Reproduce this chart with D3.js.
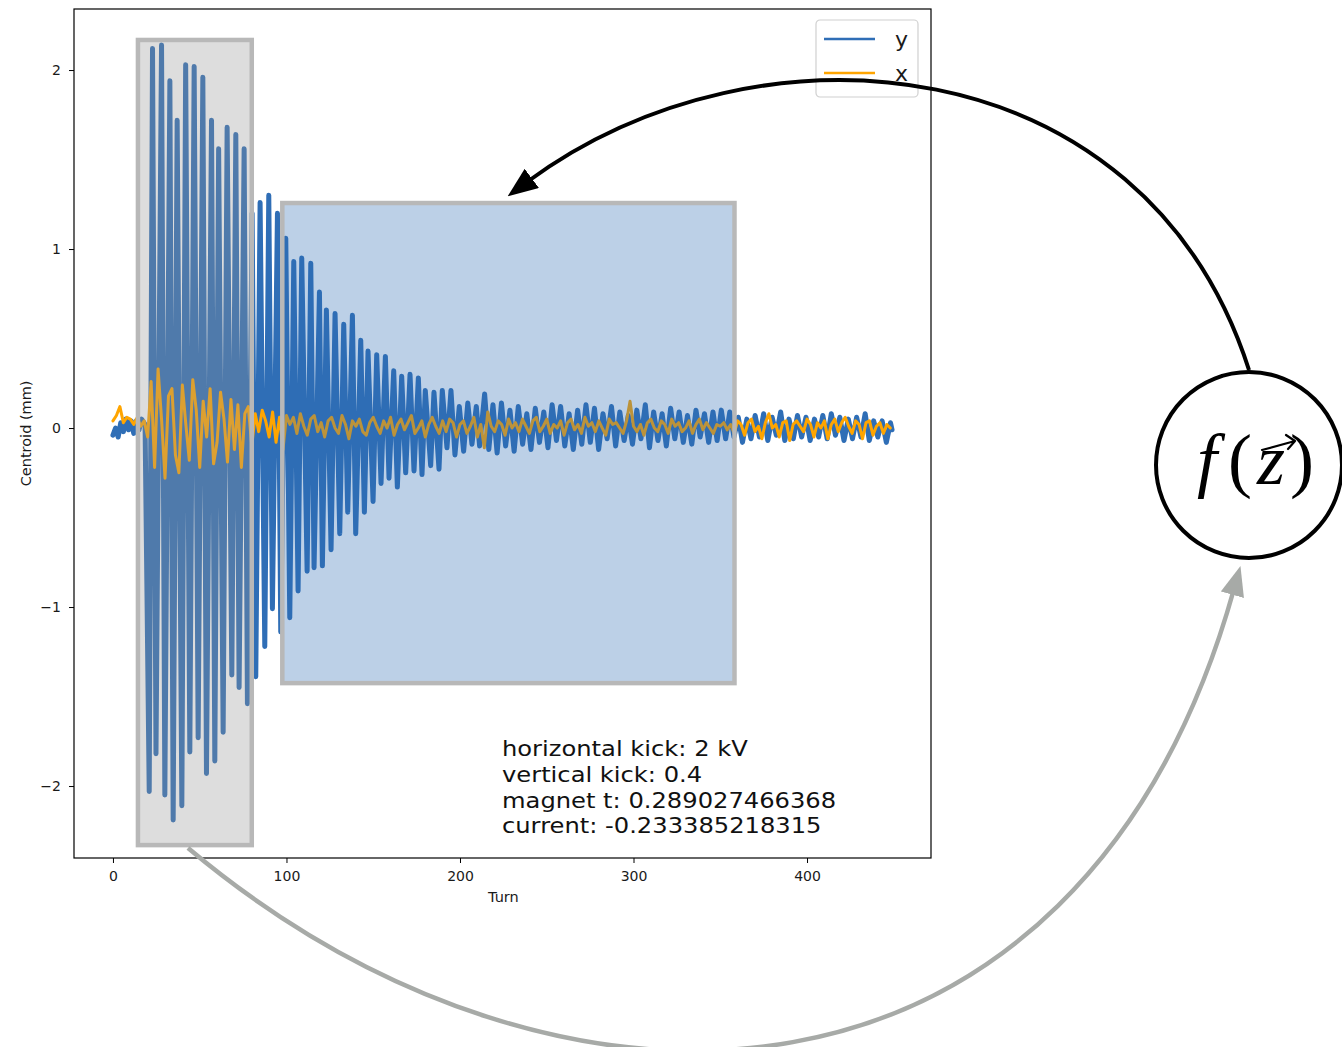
<!DOCTYPE html>
<html>
<head>
<meta charset="utf-8">
<script src="https://cdn.jsdelivr.net/npm/d3@7"></script>
<style>
  body { margin: 0; background: #fff; }
  svg { display: block; font-family: "DejaVu Sans", sans-serif; }
</style>
</head>
<body>
<svg id="chart" width="1342" height="1047"></svg>
<script>
// y centroid: turning points of the oscillation [turn, mm]
const yTrace = [
  [0,-0.04],[1.5,0.0],[3,-0.05],[4.5,0.03],[6,-0.02],[7.5,0.05],[9,-0.01],[10.5,0.04],[12,-0.03],[13.5,0.04],[15,-0.01],[16.5,0.05],[18.5,0.02],
  [20.9,-2.03],[22.8,2.12],[24.8,-1.82],[28.0,2.14],[29.9,-2.05],[32.8,1.94],[34.7,-2.19],[37.0,1.72],[39.7,-2.11],[41.9,2.03],
  [44.3,-1.81],[46.8,2.02],[49.1,-1.73],[51.8,1.96],[53.9,-1.93],[56.8,1.72],[58.7,-1.86],[60.9,1.56],[63.5,-1.70],[65.8,1.68],
  [68.5,-1.38],[70.8,1.64],[72.7,-1.45],[75.6,1.56],[77.5,-1.54],[80.2,1.20],[82.3,-1.39],[84.8,1.26],[87.5,-1.22],[89.8,1.30],
  [91.9,-1.01],[94.8,1.20],[96.7,-1.14],[99.6,1.06],[101.9,-1.06],[104.2,0.93],[106.7,-0.91],[108.8,0.95],[111.9,-0.80],[114.0,0.92],
  [115.9,-0.78],[119.0,0.76],[120.7,-0.77],[123.0,0.66],[125.7,-0.68],[128.0,0.64],[130.7,-0.59],[133.0,0.58],[135.3,-0.47],[138.0,0.63],
  [139.9,-0.59],[142.8,0.49],[144.9,-0.47],[147.0,0.43],[149.9,-0.41],[152.0,0.41],[154.5,-0.31],[157.0,0.40],[159.1,-0.28],[161.8,0.32],
  [163.9,-0.33],[166.4,0.29],[168.7,-0.25],[171.2,0.30],[173.5,-0.24],[176.0,0.28],[178.1,-0.26],[180.0,0.21],[183.1,-0.21],[185.0,0.20],
  [187.9,-0.23],[189.8,0.21],[192.5,-0.11],[194.8,0.21],[197.1,-0.15],[199.6,0.12],[202.1,-0.13],[204.5,0.14],[206.9,-0.09],[209.4,0.12],
  [211.3,-0.10],[214.2,0.19],[216.6,-0.12],[219.0,0.13],[221.4,-0.14],[223.9,0.14],[226.3,-0.10],[228.8,0.10],[231.2,-0.13],[233.6,0.12],
  [236.1,-0.09],[238.5,0.08],[240.9,-0.12],[243.4,0.11],[245.8,-0.08],[248.3,0.09],[250.7,-0.11],[253.1,0.13],[255.6,-0.07],[258.0,0.12],
  [260.4,-0.10],[262.9,0.08],[265.3,-0.12],[267.8,0.10],[270.2,-0.09],[272.6,0.13],[275.1,-0.08],[277.5,0.11],[279.9,-0.12],[282.4,0.08],
  [284.8,-0.06],[287.3,0.12],[289.7,-0.10],[292.1,0.09],[294.6,-0.07],[297.0,0.07],[299.4,-0.09],[301.9,0.10],[304.3,-0.06],[306.8,0.13],
  [309.2,-0.11],[311.6,0.09],[314.1,-0.07],[316.5,0.08],[318.9,-0.10],[321.4,0.11],[323.8,-0.06],[326.3,0.09],[328.7,-0.08],[331.1,0.07],
  [333.6,-0.09],[336.0,0.10],[338.4,-0.05],[340.9,0.08],[343.3,-0.08],[345.8,0.09],[348.2,-0.07],[350.6,0.10],[353.1,-0.06],[355.5,0.09],
  [357.9,-0.05],[360.4,0.06],[362.8,-0.08],[365.3,0.05],[367.7,-0.06],[370.1,0.07],[372.6,-0.05],[375.0,0.08],[377.4,-0.07],[379.9,0.06],
  [382.3,-0.04],[384.8,0.09],[387.2,-0.07],[389.6,0.05],[392.1,-0.06],[394.5,0.07],[396.9,-0.05],[399.4,0.06],[401.8,-0.07],[404.3,0.05],
  [406.7,-0.05],[409.1,0.07],[411.6,-0.06],[414.0,0.08],[416.4,-0.04],[418.9,0.06],[421.3,-0.07],[423.8,0.05],[426.2,-0.06],[428.6,0.06],
  [431.1,-0.05],[433.5,0.08],[435.9,-0.07],[438.4,0.04],[440.8,-0.05],[443.3,0.04],[445.7,-0.08],[448.1,0.03],[449,-0.01]
];

// x centroid, one reading every 2 turns starting at turn 0
const xStep = 2;
const xValues = [
  0.04, 0.07, 0.12, 0.03, 0.06, 0.05, 0.02, 0.06, 0.01, 0.04,
  -0.05, 0.26, -0.22, 0.33, 0.05, -0.28, 0.18, 0.22, -0.15, -0.25, 0.24, 0.02, -0.18, 0.27, 0.10, -0.22,
  0.15, -0.05, 0.22, -0.20, -0.08, 0.20, 0.05, -0.19, 0.16, -0.12, 0.13, -0.22, 0.08, 0.12, -0.10,
  0.08, -0.02, 0.10, 0.04, -0.05, 0.09, -0.08, 0.06, -0.12, 0.07,
  0.02, 0.06, -0.03, 0.08, 0.01, -0.04, 0.05, 0.07, -0.02, 0.03,
  -0.05, 0.04, 0.06, 0.00, -0.03, 0.07, 0.02, -0.06, 0.04, 0.01,
  0.05, -0.02, -0.04, 0.03, 0.06, 0.01, -0.03, 0.04, 0.00, 0.06,
  -0.04, 0.02, 0.05, -0.01, 0.03, 0.07, -0.03, 0.00, 0.04, -0.05,
  0.02, 0.06, 0.01, -0.03, 0.04, -0.02, 0.05, 0.03, -0.05, 0.02,
  0.04, -0.03, 0.01, 0.06, -0.05, 0.02, -0.11, 0.09, 0.01, -0.02,
  0.04, 0.02, -0.04, 0.05, 0.00, 0.03, -0.02, 0.05, 0.01, -0.03,
  0.04, 0.06, -0.02, 0.01, 0.05, -0.03, 0.02, 0.00, 0.04, -0.04,
  0.03, 0.05, -0.01, 0.02, -0.03, 0.06, 0.01, 0.03, -0.02, 0.04,
  0.00, -0.04, 0.05, 0.02, 0.03, 0.00, -0.03, 0.04, 0.15, 0.01,
  -0.02, 0.02, -0.04, 0.03, 0.05, 0.00, -0.02, 0.04, 0.02, -0.03,
  0.05, 0.01, 0.03, -0.02, 0.00, 0.04, -0.03, 0.02, 0.05, -0.01,
  0.03, 0.00, -0.03, 0.02, 0.01,
  0.03, -0.01, 0.02, -0.03, 0.04, 0.02, -0.04, 0.03, 0.05, -0.02,
  0.01, -0.06, 0.03, 0.08, 0.00, 0.02, -0.05, 0.03, 0.04, -0.07,
  0.02, 0.04, 0.01, -0.02, 0.05, 0.02, -0.05, 0.03, 0.00, 0.04,
  -0.06, 0.02, 0.05, -0.02, 0.03, 0.06, 0.01, -0.03, 0.04, 0.02,
  -0.06, 0.03, 0.04, -0.04, 0.01, 0.03, -0.03, 0.02, 0.00
];

const xTicks = [0, 100, 200, 300, 400];
const yTicks = [-2, -1, 0, 1, 2];
const seriesNames = ["y", "x"];
const seriesColors = ["#2f6eb6", "#ffa500"];
const annotationLines = [
  "horizontal kick: 2 kV",
  "vertical kick: 0.4",
  "magnet t: 0.289027466368",
  "current: -0.233385218315"
];

const svg = d3.select("#chart");
svg.append("rect").attr("width", 1342).attr("height", 1047).attr("fill", "#fff");

const x = d3.scaleLinear().domain([-22.45, 471.45]).range([74, 931]);
const y = d3.scaleLinear().domain([-2.402, 2.341]).range([858, 9]);

const defs = svg.append("defs");
defs.append("clipPath").attr("id", "plotclip")
  .append("rect").attr("x", 74).attr("y", 9).attr("width", 857).attr("height", 849);

// traces
const line = d3.line().x(d => x(d[0])).y(d => y(d[1]));
const traces = svg.append("g").attr("clip-path", "url(#plotclip)");

traces.append("path")
  .datum(yTrace)
  .attr("d", line)
  .attr("fill", "none")
  .attr("stroke", seriesColors[0])
  .attr("stroke-width", 5)
  .attr("stroke-linejoin", "round")
  .attr("stroke-linecap", "round");

traces.append("path")
  .datum(xValues.map((v, i) => [i * xStep, v]))
  .attr("d", line)
  .attr("fill", "none")
  .attr("stroke", seriesColors[1])
  .attr("stroke-width", 3)
  .attr("stroke-linejoin", "round")
  .attr("stroke-linecap", "round");

// highlight boxes (in data units)
const boxes = [
  { t0: 14.4, t1: 80.0, v0: 2.168, v1: -2.33, fill: "rgb(149,149,149)", op: 0.32 },
  { t0: 97.6, t1: 358.2, v0: 1.257, v1: -1.425, fill: "rgb(47,110,180)", op: 0.32 }
];
boxes.forEach(b => {
  svg.append("rect")
    .attr("x", x(b.t0)).attr("y", y(b.v0))
    .attr("width", x(b.t1) - x(b.t0)).attr("height", y(b.v1) - y(b.v0))
    .attr("fill", b.fill).attr("fill-opacity", b.op)
    .attr("stroke", "#b8b8b8").attr("stroke-width", 4.5);
});

// axes
svg.append("rect")
  .attr("x", 74).attr("y", 9).attr("width", 857).attr("height", 849)
  .attr("fill", "none").attr("stroke", "#000").attr("stroke-width", 1.2);

const xAxis = svg.append("g")
  .attr("transform", "translate(0,858)")
  .call(d3.axisBottom(x).tickValues(xTicks).tickSize(5).tickPadding(8));
const yAxis = svg.append("g")
  .attr("transform", "translate(74,0)")
  .call(d3.axisLeft(y).tickValues(yTicks).tickSize(5).tickPadding(8).tickFormat(d => d < 0 ? "\u2212" + Math.abs(d) : d));
[xAxis, yAxis].forEach(a => {
  a.select(".domain").remove();
  a.selectAll("text").attr("font-family", "DejaVu Sans").attr("font-size", 14).attr("fill", "#1a1a1a");
  a.selectAll("line").attr("stroke", "#000");
});

svg.append("text")
  .attr("x", x(225)).attr("y", 902)
  .attr("text-anchor", "middle").attr("font-size", 14.5).attr("fill", "#1a1a1a")
  .text("Turn");
svg.append("text")
  .attr("transform", `translate(31,${y(-0.03)}) rotate(-90)`)
  .attr("text-anchor", "middle").attr("font-size", 14.5).attr("fill", "#1a1a1a")
  .text("Centroid (mm)");

// legend
const legend = svg.append("g").attr("transform", "translate(816,20)");
legend.append("rect")
  .attr("width", 102).attr("height", 77).attr("rx", 4)
  .attr("fill", "#fff").attr("fill-opacity", 0.85)
  .attr("stroke", "#d0d0d0").attr("stroke-width", 1.2);
seriesNames.forEach((name, i) => {
  const g = legend.append("g").attr("transform", `translate(0,${19 + i * 34})`);
  g.append("line").attr("x1", 8).attr("x2", 59)
    .attr("stroke", seriesColors[i]).attr("stroke-width", 2.5);
  g.append("text").attr("x", 79).attr("y", 8)
    .attr("font-size", 22).attr("fill", "#1a1a1a").text(name);
});

// run parameters (slightly widened to match the original lettering)
svg.append("g")
  .attr("transform", "translate(502,0) scale(1.1,1)")
  .selectAll("text")
  .data(annotationLines)
  .enter()
  .append("text")
  .attr("x", 0)
  .attr("y", (d, i) => 756 + i * 25.8)
  .attr("font-size", 22)
  .attr("fill", "#111")
  .text(d => d);

// arrows
function arrowMarker(id, color) {
  defs.append("marker")
    .attr("id", id)
    .attr("viewBox", "0 -5 10 10")
    .attr("refX", 2)
    .attr("refY", 0)
    .attr("markerUnits", "userSpaceOnUse")
    .attr("markerWidth", 30)
    .attr("markerHeight", 24)
    .attr("preserveAspectRatio", "none")
    .attr("orient", "auto")
    .append("path")
    .attr("d", "M0,-5L10,0L0,5Z")
    .attr("fill", color);
}
arrowMarker("arrow-black", "#000");
arrowMarker("arrow-gray", "#a7aaa7");

svg.append("path")
  .attr("d", "M1249,370 C1145,45 760,10 527,182")
  .attr("fill", "none").attr("stroke", "#000").attr("stroke-width", 4)
  .attr("marker-end", "url(#arrow-black)");

svg.append("path")
  .attr("d", "M188,848 C560,1160 1080,1140 1234,589")
  .attr("fill", "none").attr("stroke", "#a7aaa7").attr("stroke-width", 4.5)
  .attr("marker-end", "url(#arrow-gray)");

// function node
const node = svg.append("g").attr("transform", "translate(1249,465)");
node.append("circle").attr("r", 93).attr("fill", "#fff").attr("stroke", "#000").attr("stroke-width", 4);
const glyphs = [
  { t: "f", dx: -42, italic: true },
  { t: "(", dx: -9, italic: false },
  { t: "z", dx: 22, italic: true },
  { t: ")", dx: 53, italic: false }
];
node.selectAll("text.glyph")
  .data(glyphs)
  .enter()
  .append("text")
  .attr("class", "glyph")
  .attr("x", d => d.dx).attr("y", 19)
  .attr("text-anchor", "middle")
  .attr("font-family", "Liberation Serif, DejaVu Serif, serif")
  .attr("font-style", d => d.italic ? "italic" : "normal")
  .attr("font-size", 72)
  .attr("fill", "#000")
  .text(d => d.t);
node.append("path")
  .attr("d", "M13,-15 L46,-24 M37,-30 L46,-24 L39,-16")
  .attr("fill", "none").attr("stroke", "#000").attr("stroke-width", 2.2)
  .attr("stroke-linecap", "round").attr("stroke-linejoin", "round");
</script>
</body>
</html>
